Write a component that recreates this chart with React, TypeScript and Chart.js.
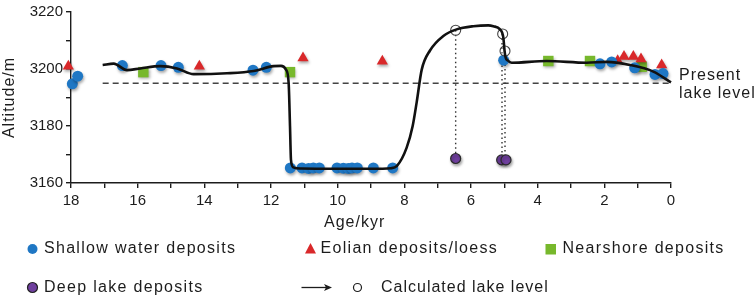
import React, { useEffect, useRef } from 'react';
import { Chart, registerables } from 'chart.js';
Chart.register(...registerables);

const FONT = '"Liberation Sans", Arial, Helvetica, sans-serif';

// Shallow water deposits (age kyr, altitude m)
const shallowAge = [17.96, 17.8, 16.46, 15.3, 14.78, 12.54, 12.14, 11.42, 11.07, 10.87, 10.73, 10.55, 10.02, 9.83, 9.68, 9.57, 9.41, 8.93, 8.35, 5.02, 2.13, 1.78, 1.09, 0.48, 0.24];
const shallowAlt = [3194.8, 3197.5, 3201.2, 3201.2, 3200.6, 3199.6, 3200.6, 3165.3, 3165.3, 3165.1, 3165.3, 3165.3, 3165.3, 3165.2, 3165.1, 3165.3, 3165.3, 3165.3, 3165.3, 3203.1, 3201.8, 3202.5, 3200.4, 3198.1, 3198.4];

// Eolian deposits / loess
const eolianAge = [18.08, 14.15, 11.04, 8.66, 1.6, 1.41, 1.13, 0.9, 0.28];
const eolianAlt = [3201.0, 3201.0, 3203.9, 3202.7, 3202.9, 3204.4, 3204.4, 3203.5, 3201.4];

// Nearshore deposits
const nearAge = [15.83, 11.43, 3.68, 2.43, 0.88];
const nearAlt = [3198.9, 3198.9, 3202.8, 3202.8, 3200.8];

// Deep lake deposits
const deepAge = [6.46, 5.08, 4.95];
const deepAlt = [3168.6, 3168.1, 3168.1];

// Calculated lake level
const calcAge = [6.46, 5.05, 4.98];
const calcAlt = [3213.6, 3212.3, 3206.3];

// Lake level curve
const curveAge = [17.05, 16.72, 16.32, 15.92, 15.32, 14.82, 14.32, 13.32, 12.52, 11.92, 11.7, 11.55, 11.47, 11.43, 11.4, 11.33, 11.1, 10.0, 9.0, 8.4, 8.22, 7.93, 7.75, 7.63, 7.48, 7.23, 6.83, 6.43, 5.93, 5.48, 5.33, 5.13, 5.03, 4.99, 4.96, 4.9, 4.78, 3.73, 2.53, 1.93, 1.23, 0.53, 0.0];
const curveAlt = [3201.4, 3201.9, 3199.6, 3200.2, 3201.0, 3200.2, 3198.2, 3198.5, 3199.3, 3201.0, 3201.1, 3199.8, 3195.0, 3180.0, 3168.0, 3165.5, 3165.1, 3165.0, 3165.0, 3165.2, 3166.0, 3172.4, 3180.0, 3188.3, 3199.7, 3206.5, 3211.6, 3213.9, 3215.0, 3215.3, 3215.0, 3213.9, 3211.0, 3206.0, 3204.0, 3203.0, 3202.2, 3202.8, 3202.2, 3202.5, 3201.4, 3199.1, 3195.3];

// Present lake level
const presentLevel = 3195;
const presentFrom = 17.05;
const presentTo = 0;

// Dotted connectors (age, top altitude, bottom altitude)
const dropAge = [6.46, 5.07, 4.98];
const dropTop = [3213.6, 3212.3, 3206.3];
const dropBottom = [3168.6, 3168.1, 3168.1];

const BLUE = '#1f77c4';
const RED = '#d9282a';
const GREEN = '#77b82c';
const PURPLE = '#6f3f9e';
const INK = '#1c1c1c';

const pts = (xs: number[], ys: number[]) => xs.map((x, i) => ({ x, y: ys[i] }));

function drawText(ctx: CanvasRenderingContext2D, s: string, x: number, y: number, size: number, spacing = 1.1, align: CanvasTextAlign = 'left') {
  ctx.save();
  ctx.font = `${size}px ${FONT}`;
  ctx.fillStyle = INK;
  ctx.textAlign = align;
  ctx.textBaseline = 'middle';
  (ctx as any).letterSpacing = spacing + 'px';
  ctx.fillText(s, x, y);
  ctx.restore();
}

const decorPlugin = {
  id: 'decor',
  beforeDatasetDraw(chart: any, args: any) {
    const ds = chart.data.datasets[args.index];
    if (ds.shadow) {
      const ctx = chart.ctx;
      ctx.save();
      ctx.shadowColor = 'rgba(0,0,0,0.35)';
      ctx.shadowBlur = 3;
      ctx.shadowOffsetX = 1;
      ctx.shadowOffsetY = 2;
    }
  },
  afterDatasetDraw(chart: any, args: any) {
    const ds = chart.data.datasets[args.index];
    if (ds.shadow) chart.ctx.restore();
  },
  afterDraw(chart: any) {
    const ctx: CanvasRenderingContext2D = chart.ctx;
    const area = chart.chartArea;
    const ys = chart.scales.y;
    // Y title
    ctx.save();
    ctx.translate(10, (area.top + area.bottom) / 2);
    ctx.rotate(-Math.PI / 2);
    drawText(ctx, 'Altitude/m', 0, 0, 16, 1, 'center');
    ctx.restore();
    // X title
    drawText(ctx, 'Age/kyr', 324, 223, 16, 1);
    // Present lake level
    const py = ys.getPixelForValue(presentLevel);
    drawText(ctx, 'Present', area.right + 8, py - 8, 16, 1);
    drawText(ctx, 'lake level', area.right + 8, py + 10, 16, 1);

    // Legend
    const r1 = 249;
    const r2 = 287.5;
    ctx.save();
    ctx.fillStyle = BLUE;
    ctx.beginPath(); ctx.arc(32.5, r1, 5, 0, Math.PI * 2); ctx.fill();
    ctx.fillStyle = RED;
    ctx.beginPath(); ctx.moveTo(310.5, r1 - 6); ctx.lineTo(316, r1 + 4.5); ctx.lineTo(305, r1 + 4.5); ctx.closePath(); ctx.fill();
    ctx.fillStyle = GREEN;
    ctx.fillRect(545.5, r1 - 5, 10.5, 10.5);
    ctx.fillStyle = PURPLE;
    ctx.strokeStyle = '#222';
    ctx.lineWidth = 1.2;
    ctx.beginPath(); ctx.arc(32.5, r2, 5, 0, Math.PI * 2); ctx.fill(); ctx.stroke();
    // arrow
    ctx.strokeStyle = INK;
    ctx.lineWidth = 1.3;
    ctx.beginPath(); ctx.moveTo(301.5, r2); ctx.lineTo(326, r2); ctx.stroke();
    ctx.fillStyle = INK;
    ctx.beginPath(); ctx.moveTo(332, r2); ctx.lineTo(324, r2 - 3.5); ctx.lineTo(326, r2); ctx.lineTo(324, r2 + 3.5); ctx.closePath(); ctx.fill();
    ctx.lineWidth = 1.2;
    ctx.beginPath(); ctx.arc(357.5, r2, 4, 0, Math.PI * 2); ctx.stroke();
    ctx.restore();
    drawText(ctx, 'Shallow water deposits', 44, r1, 16, 1.3);
    drawText(ctx, 'Eolian deposits/loess', 320.5, r1, 16, 1.3);
    drawText(ctx, 'Nearshore deposits', 562.5, r1, 16, 1.3);
    drawText(ctx, 'Deep lake deposits', 44, r2, 16, 1.3);
    drawText(ctx, 'Calculated lake level', 381, r2, 16, 1.0);
  },
};

export default function App() {
  const ref = useRef<HTMLCanvasElement | null>(null);
  useEffect(() => {
    if (!ref.current) return;
    const dropSets = dropAge.map((a, i) => ({
      type: 'line' as const,
      data: [{ x: a, y: dropTop[i] }, { x: a, y: dropBottom[i] }],
      borderColor: '#333',
      borderWidth: 1.4,
      borderDash: [1.5, 3],
      pointRadius: 0,
      order: 3,
      clip: false,
    }));
    const chart = new Chart(ref.current, {
      type: 'scatter',
      data: {
        datasets: [
          {
            type: 'line',
            data: pts(curveAge, curveAlt),
            borderColor: '#111',
            borderWidth: 2.6,
            pointRadius: 0,
            cubicInterpolationMode: 'monotone',
            order: 0,
            clip: false,
          } as any,
          {
            type: 'line',
            data: [{ x: presentFrom, y: presentLevel }, { x: presentTo, y: presentLevel }],
            borderColor: '#444',
            borderWidth: 1.5,
            borderDash: [6, 4],
            pointRadius: 0,
            order: 4,
          } as any,
          ...dropSets,
          {
            data: pts(shallowAge, shallowAlt),
            backgroundColor: BLUE,
            borderWidth: 0,
            pointRadius: 5.5,
            pointStyle: 'circle',
            shadow: true,
            order: 2,
            clip: false,
          } as any,
          {
            data: pts(eolianAge, eolianAlt),
            backgroundColor: RED,
            borderWidth: 0,
            pointRadius: 6.5,
            pointStyle: 'triangle',
            shadow: true,
            order: 2,
            clip: false,
          } as any,
          {
            data: pts(nearAge, nearAlt),
            backgroundColor: GREEN,
            borderWidth: 0,
            pointRadius: 7.4,
            pointStyle: 'rect',
            shadow: true,
            order: 2,
            clip: false,
          } as any,
          {
            data: pts(deepAge, deepAlt),
            backgroundColor: PURPLE,
            borderColor: '#2a2a2a',
            borderWidth: 1.2,
            pointRadius: 5,
            shadow: true,
            order: 1,
            clip: false,
          } as any,
          {
            data: pts(calcAge, calcAlt),
            backgroundColor: 'rgba(255,255,255,0.25)',
            borderColor: '#444',
            borderWidth: 1.1,
            pointRadius: 5,
            order: 1,
            clip: false,
          } as any,
        ],
      },
      options: {
        animation: false,
        responsive: false,
        layout: { padding: { top: 7, right: 83, left: 0, bottom: 0 } },
        plugins: { legend: { display: false }, tooltip: { enabled: false } },
        scales: {
          x: {
            type: 'linear',
            reverse: true,
            min: 0,
            max: 18,
            afterFit: (s: any) => { s.height = 115; },
            ticks: {
              stepSize: 1,
              autoSkip: false,
              maxRotation: 0,
              padding: 4,
              color: INK,
              font: { family: FONT, size: 15 },
              callback: (v: any) => (Number(v) % 2 === 0 ? String(v) : ''),
            },
            grid: { drawOnChartArea: false, drawTicks: true, tickLength: 5, color: INK, lineWidth: 1.4 },
            border: { display: true, color: INK, width: 1.4 },
          },
          y: {
            type: 'linear',
            min: 3160,
            max: 3220,
            afterFit: (s: any) => { s.width = 71; },
            ticks: {
              stepSize: 10,
              padding: 3,
              color: INK,
              font: { family: FONT, size: 15 },
              callback: (v: any) => (Number(v) % 20 === 0 ? String(v) : ''),
            },
            grid: { drawOnChartArea: false, drawTicks: true, tickLength: 5, color: INK, lineWidth: 1.4 },
            border: { display: true, color: INK, width: 1.4 },
          },
        },
      } as any,
      plugins: [decorPlugin],
    });
    return () => chart.destroy();
  }, []);
  return (
    <div style={{ position: 'fixed', left: 0, top: 0, width: 754, height: 298, background: '#fff' }}>
      <canvas ref={ref} width={754} height={298} style={{ display: 'block' }} />
    </div>
  );
}
